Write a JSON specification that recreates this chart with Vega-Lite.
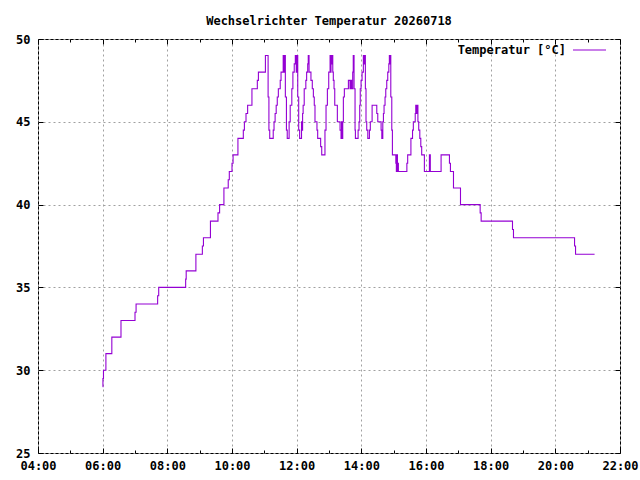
{
  "$schema": "https://vega.github.io/schema/vega-lite/v6.json",
  "width": 582,
  "height": 414,
  "autosize": "none",
  "padding": {"left": 38, "top": 39, "right": 20, "bottom": 27},
  "background": "white",
  "title": {
    "text": "Wechselrichter Temperatur 20260718",
    "font": "DejaVu Sans Mono",
    "fontSize": 12,
    "fontWeight": "bold",
    "color": "black",
    "anchor": "middle",
    "frame": "group",
    "baseline": "alphabetic",
    "offset": -4
  },
  "config": {
    "view": {"stroke": "black", "strokeWidth": 1},
    "axis": {
      "domain": false,
      "labelFont": "DejaVu Sans Mono",
      "labelFontSize": 12,
      "labelFontWeight": "bold",
      "labelColor": "black",
      "tickColor": "black",
      "tickWidth": 1,
      "gridColor": "#a0a0a0",
      "gridDash": [2, 3],
      "gridWidth": 1,
      "gridOpacity": 1,
      "title": null,
      "labelOverlap": false,
      "labelFlush": false,
      "labelBound": false
    }
  },
  "data": {
    "values": [
      {"t": "2026-07-18T06:00:00Z", "v": 29},
      {"t": "2026-07-18T06:00:30Z", "v": 29.5},
      {"t": "2026-07-18T06:01:30Z", "v": 30},
      {"t": "2026-07-18T06:06:00Z", "v": 31},
      {"t": "2026-07-18T06:17:00Z", "v": 32},
      {"t": "2026-07-18T06:34:00Z", "v": 33},
      {"t": "2026-07-18T07:00:00Z", "v": 33.5},
      {"t": "2026-07-18T07:02:00Z", "v": 34},
      {"t": "2026-07-18T07:42:00Z", "v": 34.5},
      {"t": "2026-07-18T07:44:00Z", "v": 35},
      {"t": "2026-07-18T08:34:00Z", "v": 35.5},
      {"t": "2026-07-18T08:35:00Z", "v": 36},
      {"t": "2026-07-18T08:53:00Z", "v": 37},
      {"t": "2026-07-18T09:05:00Z", "v": 37.5},
      {"t": "2026-07-18T09:07:00Z", "v": 38},
      {"t": "2026-07-18T09:20:00Z", "v": 39},
      {"t": "2026-07-18T09:34:00Z", "v": 39.5},
      {"t": "2026-07-18T09:37:00Z", "v": 40},
      {"t": "2026-07-18T09:45:00Z", "v": 41},
      {"t": "2026-07-18T09:53:00Z", "v": 41.5},
      {"t": "2026-07-18T09:55:00Z", "v": 42},
      {"t": "2026-07-18T10:00:00Z", "v": 42.5},
      {"t": "2026-07-18T10:02:00Z", "v": 43},
      {"t": "2026-07-18T10:11:00Z", "v": 44},
      {"t": "2026-07-18T10:21:00Z", "v": 44.5},
      {"t": "2026-07-18T10:23:00Z", "v": 45},
      {"t": "2026-07-18T10:26:00Z", "v": 45.5},
      {"t": "2026-07-18T10:29:00Z", "v": 46},
      {"t": "2026-07-18T10:37:00Z", "v": 47},
      {"t": "2026-07-18T10:47:00Z", "v": 47.5},
      {"t": "2026-07-18T10:49:00Z", "v": 48},
      {"t": "2026-07-18T11:02:00Z", "v": 49},
      {"t": "2026-07-18T11:07:00Z", "v": 46.5},
      {"t": "2026-07-18T11:08:30Z", "v": 44.5},
      {"t": "2026-07-18T11:10:00Z", "v": 44},
      {"t": "2026-07-18T11:16:30Z", "v": 44.5},
      {"t": "2026-07-18T11:18:00Z", "v": 45},
      {"t": "2026-07-18T11:20:00Z", "v": 45.5},
      {"t": "2026-07-18T11:22:00Z", "v": 46},
      {"t": "2026-07-18T11:24:00Z", "v": 46.5},
      {"t": "2026-07-18T11:26:00Z", "v": 47},
      {"t": "2026-07-18T11:29:30Z", "v": 47.5},
      {"t": "2026-07-18T11:31:00Z", "v": 48},
      {"t": "2026-07-18T11:35:00Z", "v": 49},
      {"t": "2026-07-18T11:36:30Z", "v": 48},
      {"t": "2026-07-18T11:37:30Z", "v": 49},
      {"t": "2026-07-18T11:39:00Z", "v": 46.5},
      {"t": "2026-07-18T11:41:00Z", "v": 44.5},
      {"t": "2026-07-18T11:42:30Z", "v": 44},
      {"t": "2026-07-18T11:46:00Z", "v": 45},
      {"t": "2026-07-18T11:48:00Z", "v": 46},
      {"t": "2026-07-18T11:51:00Z", "v": 47},
      {"t": "2026-07-18T11:53:00Z", "v": 48},
      {"t": "2026-07-18T11:55:30Z", "v": 48.5},
      {"t": "2026-07-18T11:57:30Z", "v": 49},
      {"t": "2026-07-18T11:59:15Z", "v": 48},
      {"t": "2026-07-18T12:00:00Z", "v": 49},
      {"t": "2026-07-18T12:00:45Z", "v": 48.5},
      {"t": "2026-07-18T12:01:20Z", "v": 49},
      {"t": "2026-07-18T12:02:00Z", "v": 46.5},
      {"t": "2026-07-18T12:03:45Z", "v": 44.5},
      {"t": "2026-07-18T12:05:30Z", "v": 44},
      {"t": "2026-07-18T12:09:00Z", "v": 45},
      {"t": "2026-07-18T12:10:00Z", "v": 44.5},
      {"t": "2026-07-18T12:11:00Z", "v": 45.5},
      {"t": "2026-07-18T12:12:00Z", "v": 46},
      {"t": "2026-07-18T12:14:00Z", "v": 47},
      {"t": "2026-07-18T12:17:00Z", "v": 47.5},
      {"t": "2026-07-18T12:18:30Z", "v": 48},
      {"t": "2026-07-18T12:20:30Z", "v": 48.5},
      {"t": "2026-07-18T12:21:30Z", "v": 49},
      {"t": "2026-07-18T12:23:00Z", "v": 48},
      {"t": "2026-07-18T12:26:30Z", "v": 47.5},
      {"t": "2026-07-18T12:29:00Z", "v": 47},
      {"t": "2026-07-18T12:31:00Z", "v": 46.5},
      {"t": "2026-07-18T12:32:40Z", "v": 46},
      {"t": "2026-07-18T12:34:00Z", "v": 45},
      {"t": "2026-07-18T12:37:40Z", "v": 44.5},
      {"t": "2026-07-18T12:39:00Z", "v": 44},
      {"t": "2026-07-18T12:44:30Z", "v": 43.5},
      {"t": "2026-07-18T12:46:30Z", "v": 43},
      {"t": "2026-07-18T12:52:30Z", "v": 44.5},
      {"t": "2026-07-18T12:54:30Z", "v": 46},
      {"t": "2026-07-18T12:57:00Z", "v": 47},
      {"t": "2026-07-18T12:59:30Z", "v": 48},
      {"t": "2026-07-18T13:02:00Z", "v": 49},
      {"t": "2026-07-18T13:03:00Z", "v": 48},
      {"t": "2026-07-18T13:03:45Z", "v": 49},
      {"t": "2026-07-18T13:04:40Z", "v": 48.5},
      {"t": "2026-07-18T13:05:40Z", "v": 49},
      {"t": "2026-07-18T13:07:00Z", "v": 48},
      {"t": "2026-07-18T13:08:00Z", "v": 47.5},
      {"t": "2026-07-18T13:09:20Z", "v": 47},
      {"t": "2026-07-18T13:10:40Z", "v": 46},
      {"t": "2026-07-18T13:15:30Z", "v": 45},
      {"t": "2026-07-18T13:20:30Z", "v": 44.5},
      {"t": "2026-07-18T13:22:20Z", "v": 44},
      {"t": "2026-07-18T13:23:10Z", "v": 45},
      {"t": "2026-07-18T13:24:10Z", "v": 44},
      {"t": "2026-07-18T13:25:30Z", "v": 45},
      {"t": "2026-07-18T13:26:40Z", "v": 46.5},
      {"t": "2026-07-18T13:28:30Z", "v": 47},
      {"t": "2026-07-18T13:36:00Z", "v": 47.5},
      {"t": "2026-07-18T13:39:00Z", "v": 47},
      {"t": "2026-07-18T13:40:30Z", "v": 47.5},
      {"t": "2026-07-18T13:41:50Z", "v": 47},
      {"t": "2026-07-18T13:44:00Z", "v": 48},
      {"t": "2026-07-18T13:45:00Z", "v": 49},
      {"t": "2026-07-18T13:46:30Z", "v": 47},
      {"t": "2026-07-18T13:48:20Z", "v": 44.5},
      {"t": "2026-07-18T13:49:00Z", "v": 44},
      {"t": "2026-07-18T13:54:00Z", "v": 44.5},
      {"t": "2026-07-18T13:55:45Z", "v": 45},
      {"t": "2026-07-18T13:57:00Z", "v": 46},
      {"t": "2026-07-18T13:58:00Z", "v": 47},
      {"t": "2026-07-18T13:59:30Z", "v": 47.5},
      {"t": "2026-07-18T14:01:20Z", "v": 48},
      {"t": "2026-07-18T14:03:45Z", "v": 49},
      {"t": "2026-07-18T14:04:40Z", "v": 48.5},
      {"t": "2026-07-18T14:05:35Z", "v": 49},
      {"t": "2026-07-18T14:06:30Z", "v": 48.5},
      {"t": "2026-07-18T14:07:00Z", "v": 49},
      {"t": "2026-07-18T14:07:30Z", "v": 47},
      {"t": "2026-07-18T14:08:40Z", "v": 45},
      {"t": "2026-07-18T14:10:00Z", "v": 44.5},
      {"t": "2026-07-18T14:12:00Z", "v": 44},
      {"t": "2026-07-18T14:15:00Z", "v": 44.5},
      {"t": "2026-07-18T14:16:40Z", "v": 45},
      {"t": "2026-07-18T14:20:00Z", "v": 46},
      {"t": "2026-07-18T14:28:40Z", "v": 45.5},
      {"t": "2026-07-18T14:30:30Z", "v": 45},
      {"t": "2026-07-18T14:36:40Z", "v": 44.5},
      {"t": "2026-07-18T14:38:00Z", "v": 44},
      {"t": "2026-07-18T14:38:50Z", "v": 44.5},
      {"t": "2026-07-18T14:39:25Z", "v": 44},
      {"t": "2026-07-18T14:39:50Z", "v": 45},
      {"t": "2026-07-18T14:41:00Z", "v": 45.5},
      {"t": "2026-07-18T14:42:10Z", "v": 46},
      {"t": "2026-07-18T14:44:00Z", "v": 46.5},
      {"t": "2026-07-18T14:45:20Z", "v": 47},
      {"t": "2026-07-18T14:47:10Z", "v": 47.5},
      {"t": "2026-07-18T14:49:00Z", "v": 48},
      {"t": "2026-07-18T14:51:00Z", "v": 48.5},
      {"t": "2026-07-18T14:52:00Z", "v": 49},
      {"t": "2026-07-18T14:53:00Z", "v": 48.5},
      {"t": "2026-07-18T14:53:40Z", "v": 49},
      {"t": "2026-07-18T14:54:40Z", "v": 46.5},
      {"t": "2026-07-18T14:56:30Z", "v": 44.5},
      {"t": "2026-07-18T14:57:40Z", "v": 43},
      {"t": "2026-07-18T15:04:00Z", "v": 42.5},
      {"t": "2026-07-18T15:05:00Z", "v": 42},
      {"t": "2026-07-18T15:06:00Z", "v": 43},
      {"t": "2026-07-18T15:07:00Z", "v": 42},
      {"t": "2026-07-18T15:08:00Z", "v": 42.5},
      {"t": "2026-07-18T15:08:45Z", "v": 42},
      {"t": "2026-07-18T15:24:30Z", "v": 42.5},
      {"t": "2026-07-18T15:26:00Z", "v": 43},
      {"t": "2026-07-18T15:32:00Z", "v": 44},
      {"t": "2026-07-18T15:35:00Z", "v": 44.5},
      {"t": "2026-07-18T15:36:30Z", "v": 45},
      {"t": "2026-07-18T15:40:00Z", "v": 45.5},
      {"t": "2026-07-18T15:41:00Z", "v": 46},
      {"t": "2026-07-18T15:42:00Z", "v": 45.5},
      {"t": "2026-07-18T15:43:00Z", "v": 46},
      {"t": "2026-07-18T15:45:00Z", "v": 45},
      {"t": "2026-07-18T15:46:30Z", "v": 44.5},
      {"t": "2026-07-18T15:48:30Z", "v": 44},
      {"t": "2026-07-18T15:50:20Z", "v": 43.5},
      {"t": "2026-07-18T15:52:00Z", "v": 43},
      {"t": "2026-07-18T15:57:00Z", "v": 42},
      {"t": "2026-07-18T16:06:20Z", "v": 43},
      {"t": "2026-07-18T16:08:00Z", "v": 42},
      {"t": "2026-07-18T16:28:00Z", "v": 43},
      {"t": "2026-07-18T16:43:30Z", "v": 42.5},
      {"t": "2026-07-18T16:45:20Z", "v": 42},
      {"t": "2026-07-18T16:51:00Z", "v": 41},
      {"t": "2026-07-18T17:04:00Z", "v": 40},
      {"t": "2026-07-18T17:40:30Z", "v": 39.5},
      {"t": "2026-07-18T17:42:20Z", "v": 39},
      {"t": "2026-07-18T18:40:30Z", "v": 38.5},
      {"t": "2026-07-18T18:42:20Z", "v": 38},
      {"t": "2026-07-18T20:35:40Z", "v": 37.5},
      {"t": "2026-07-18T20:37:30Z", "v": 37},
      {"t": "2026-07-18T21:12:50Z", "v": 37}
    ]
  },
  "layer": [
    {
      "mark": {"type": "line", "interpolate": "step-after", "strokeWidth": 1.1},
      "encoding": {
        "x": {
          "field": "t",
          "type": "temporal",
          "scale": {"domain": [1784347200000, 1784412000000], "nice": false},
          "axis": {
            "orient": "bottom",
            "values": [1784347200000, 1784350800000, 1784354400000, 1784358000000, 1784361600000, 1784365200000, 1784368800000, 1784372400000, 1784376000000, 1784379600000, 1784383200000, 1784386800000, 1784390400000, 1784394000000, 1784397600000, 1784401200000, 1784404800000, 1784408400000, 1784412000000],
            "labelExpr": "utchours(datum.value) % 2 == 0 ? utcFormat(datum.value, '%H:%M') : ''",
            "tickSize": {"condition": {"test": "utchours(datum.value) % 2 == 1", "value": -3}, "value": -5},
            "gridOpacity": {"condition": {"test": "utchours(datum.value) % 2 == 1", "value": 0}, "value": 1},
            "labelPadding": 12
          }
        },
        "y": {
          "field": "v",
          "type": "quantitative",
          "scale": {"domain": [25, 50], "nice": false, "zero": false},
          "axis": {
            "orient": "left",
            "values": [25, 30, 35, 40, 45, 50],
            "tickSize": -5,
            "labelPadding": 13
          }
        },
        "color": {
          "datum": "Temperatur [°C]",
          "type": "nominal",
          "scale": {"range": ["#9400d3"]},
          "legend": {
            "title": null,
            "orient": "none",
            "legendX": 534,
            "legendY": -6.5,
            "padding": 0,
            "symbolType": "stroke",
            "symbolSize": 1089,
            "symbolStrokeWidth": 1.1,
            "labelAlign": "right",
            "labelOffset": -41,
            "labelFont": "DejaVu Sans Mono",
            "labelFontSize": 12,
            "labelFontWeight": "bold",
            "labelColor": "black"
          }
        }
      }
    },
    {
      "mark": {"type": "line", "opacity": 0},
      "encoding": {
        "x": {
          "field": "t",
          "type": "temporal",
          "axis": {
            "orient": "top",
            "labels": false,
            "grid": false,
            "values": [1784347200000, 1784350800000, 1784354400000, 1784358000000, 1784361600000, 1784365200000, 1784368800000, 1784372400000, 1784376000000, 1784379600000, 1784383200000, 1784386800000, 1784390400000, 1784394000000, 1784397600000, 1784401200000, 1784404800000, 1784408400000, 1784412000000],
            "tickSize": {"condition": {"test": "utchours(datum.value) % 2 == 1", "value": -3}, "value": -5}
          }
        },
        "y": {
          "field": "v",
          "type": "quantitative",
          "axis": {
            "orient": "right",
            "labels": false,
            "grid": false,
            "values": [25, 30, 35, 40, 45, 50],
            "tickSize": -5
          }
        }
      }
    }
  ],
  "resolve": {"axis": {"x": "independent", "y": "independent"}}
}
